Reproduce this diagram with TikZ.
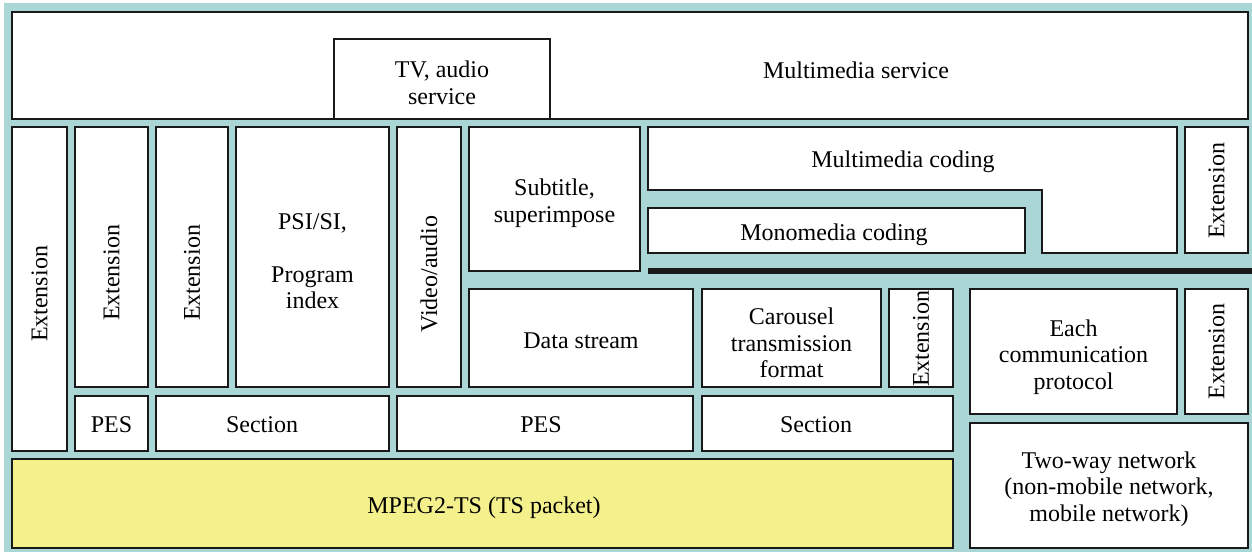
\documentclass[tikz,border=0pt]{standalone}
\usepackage{fontspec}
\setmainfont{Liberation Serif}
\newfontfamily\labelfont{Liberation Serif}
\definecolor{panel}{RGB}{170,214,214}
\definecolor{tsfill}{RGB}{244,241,140}
\definecolor{edge}{RGB}{25,25,25}
\tikzset{
  blk/.style={draw=edge, line width=2pt, fill=white, inner sep=0pt, outer sep=0pt, rectangle},
  txt/.style={inner sep=0pt, align=center, font=\labelfont\fontsize{24}{26.5}\selectfont},
  vtxt/.style={txt, rotate=90},
}
\begin{document}
\begin{tikzpicture}[x=1pt, y=-1pt]
\useasboundingbox (0,0) rectangle (1252,554);
\fill[panel] (4,3) rectangle (1252,552);

% service layer
\node[blk, minimum width=1236pt, minimum height=107pt] (svc) at (630,65.5) {};
\node[txt] (msvc) at (856,70) {Multimedia service};
\node[blk, minimum width=216pt, minimum height=80pt] (tv) at (442,79) {};
\node[txt] (tvt) at (442,83) {TV, audio\\service};

% coding layer
\node[blk, minimum width=55pt, minimum height=324pt] (ext1) at (39.5,289) {};
\node[vtxt] (ext1t) at (39.5,294) {Extension};
\node[blk, minimum width=73pt, minimum height=260pt] (ext2) at (111.5,257) {};
\node[vtxt] (ext2t) at (111.5,273) {Extension};
\node[blk, minimum width=72pt, minimum height=260pt] (ext3) at (192,257) {};
\node[vtxt] (ext3t) at (192,273) {Extension};
\node[blk, minimum width=153pt, minimum height=260pt] (psi) at (312.5,257) {};
\node[txt] (psit) at (312.5,261) {PSI/SI,\\[26.5pt]Program\\index};
\node[blk, minimum width=64pt, minimum height=260pt] (va) at (429,257) {};
\node[vtxt] (vat) at (429,274) {Video/audio};
\node[blk, minimum width=171pt, minimum height=144pt] (sub) at (554.5,199) {};
\node[txt] (subt) at (554.5,203) {Subtitle,\\superimpose};

\draw[draw=edge, line width=2pt, fill=white]
  (648,127) -- (1177,127) -- (1177,253) -- (1042,253) -- (1042,190) -- (648,190) -- cycle;
\node[txt] (mmc) at (903,162) {Multimedia coding};
\node[blk, minimum width=377pt, minimum height=45pt] (mono) at (836.5,230.5) {};
\node[txt] (monot) at (834,235) {Monomedia coding};
\node[blk, minimum width=63pt, minimum height=126pt] (extr1) at (1216.5,190) {};
\node[vtxt] (extr1t) at (1216.5,191) {Extension};

% separator
\coordinate (sepL) at (648,271);
\coordinate (sepR) at (1252,271);
\draw[edge, line width=5.5pt] (sepL) -- (sepR);

% transport formats
\node[blk, minimum width=224pt, minimum height=98pt] (ds) at (581,338) {};
\node[txt] (dst) at (581,341) {Data stream};
\node[blk, minimum width=179pt, minimum height=98pt] (car) at (791.5,338) {};
\node[txt] (cart) at (791.5,343) {Carousel\\transmission\\format};
\node[blk, minimum width=64pt, minimum height=98pt] (extc) at (921,338) {};
\node[vtxt] (extct) at (921,339) {Extension};
\node[blk, minimum width=207pt, minimum height=125pt] (comm) at (1073.5,351.5) {};
\node[txt] (commt) at (1073.5,357) {Each\\communication\\protocol};
\node[blk, minimum width=63pt, minimum height=125pt] (extr2) at (1216.5,351.5) {};
\node[vtxt] (extr2t) at (1216.5,351.5) {Extension};

% packetisation
\node[blk, minimum width=73pt, minimum height=55pt] (pes1) at (111.5,423.5) {};
\node[txt] (pes1t) at (111.5,425) {PES};
\node[blk, minimum width=233pt, minimum height=55pt] (sec1) at (272.5,423.5) {};
\node[txt] (sec1t) at (262,425) {Section};
\node[blk, minimum width=296pt, minimum height=55pt] (pes2) at (545,423.5) {};
\node[txt] (pes2t) at (541,425) {PES};
\node[blk, minimum width=251pt, minimum height=55pt] (sec2) at (827.5,423.5) {};
\node[txt] (sec2t) at (816,425) {Section};

% transport and network
\node[blk, fill=tsfill, minimum width=941pt, minimum height=89pt] (ts) at (482.5,503.5) {};
\node[txt] (tst) at (484,508) {MPEG2-TS (TS packet)};
\node[blk, minimum width=278pt, minimum height=125pt] (net) at (1109,485.5) {};
\node[txt] (nett) at (1109,489) {Two-way network\\(non-mobile network,\\mobile network)};
\end{tikzpicture}
\end{document}
